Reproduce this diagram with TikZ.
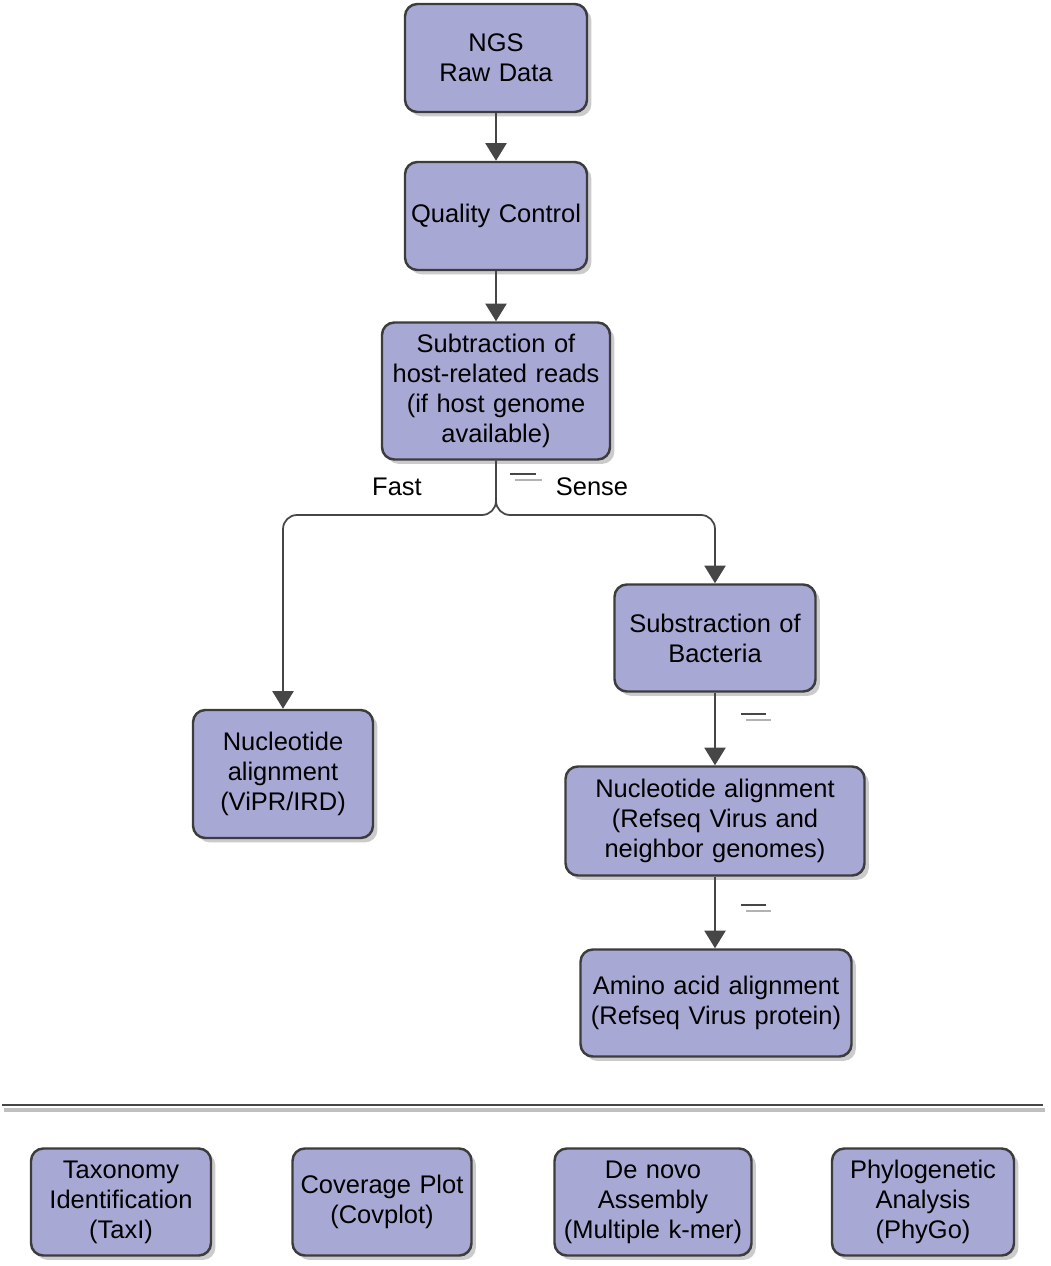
\documentclass[tikz,border=0pt]{standalone}
\usepackage{fontspec}
\setmainfont{Liberation Sans}
\usetikzlibrary{arrows.meta,shadows}
\definecolor{boxfill}{RGB}{168,168,212}
\definecolor{boxline}{RGB}{60,60,60}
\definecolor{wire}{RGB}{70,70,70}
\tikzset{
  stepbox/.style={draw=boxline,line width=1.4pt,fill=boxfill,rounded corners=7pt,
    align=center,inner sep=1pt,font=\fontsize{14.5}{17}\selectfont,
    drop shadow={shadow xshift=2.5pt,shadow yshift=-2.5pt,fill=black!45,opacity=.45}},
  flow/.style={draw=wire,line width=1pt,-{Triangle[width=12pt,length=10pt]}},
  tick/.style={line width=1.2pt}
}
\begin{document}
\begin{tikzpicture}[x=0.02cm,y=-0.02cm,line join=round]
  \useasboundingbox (0,0) rectangle (1050,1266);
  % main chain
  \node[stepbox,text width=178*0.02cm,minimum width=182*0.02cm,minimum height=108*0.02cm] (ngs) at (496,58) {NGS\\Raw Data};
  \node[stepbox,text width=178*0.02cm,minimum width=182*0.02cm,minimum height=108*0.02cm] (qc) at (496,216) {Quality Control};
  \node[stepbox,text width=215*0.02cm,minimum width=228*0.02cm,minimum height=137*0.02cm] (host) at (496,391) {Subtraction of\\host-related reads\\(if host genome\\available)};
  % fast branch
  \node[stepbox,text width=170*0.02cm,minimum width=180*0.02cm,minimum height=128*0.02cm] (vipr) at (283,774) {Nucleotide\\alignment\\(ViPR/IRD)};
  % sense branch
  \node[stepbox,text width=190*0.02cm,minimum width=201*0.02cm,minimum height=107*0.02cm] (bact) at (715,638) {Substraction of\\Bacteria};
  \node[stepbox,text width=290*0.02cm,minimum width=299*0.02cm,minimum height=109*0.02cm] (refnt) at (715,821) {Nucleotide alignment\\(Refseq Virus and\\neighbor genomes)};
  \node[stepbox,text width=262*0.02cm,minimum width=271*0.02cm,minimum height=107*0.02cm] (refaa) at (716,1003) {Amino acid alignment\\(Refseq Virus protein)};
  %
  \draw[flow] (ngs) -- (qc);
  \draw[flow] (qc) -- (host);
  \coordinate (fork) at (496,515);
  \draw[flow,rounded corners=8pt] (host.south) -- (fork) -| (vipr.north);
  \draw[flow,rounded corners=8pt] (host.south) -- (fork) -| (bact.north);
  \draw[flow] (bact) -- (refnt);
  \draw[flow] (refnt.south) -- (refaa.north -| refnt.south);
  \node[font=\fontsize{14.5}{17}\selectfont] (fast) at (397,487) {Fast};
  \node[font=\fontsize{14.5}{17}\selectfont] (sense) at (592,487) {Sense};
  % small marks
  \draw[tick,wire] (510,474) -- (536,474);
  \draw[tick,black!30] (515,480) -- (542,480);
  \draw[tick,wire] (741,714) -- (766,714);
  \draw[tick,black!30] (746,720) -- (771,720);
  \draw[tick,wire] (741,905) -- (766,905);
  \draw[tick,black!30] (746,911) -- (771,911);
  % separator
  \draw[line width=2.5pt,black!25] (4,1110) -- (1045,1110);
  \draw[line width=1.6pt,wire] (2,1105) -- (1043,1105);
  % tools
  \node[stepbox,text width=172*0.02cm,minimum width=180*0.02cm,minimum height=107*0.02cm] (taxi) at (121,1202) {Taxonomy\\Identification\\(TaxI)};
  \node[stepbox,text width=172*0.02cm,minimum width=179*0.02cm,minimum height=107*0.02cm] (cov) at (382,1202) {Coverage Plot\\(Covplot)};
  \node[stepbox,text width=192*0.02cm,minimum width=197*0.02cm,minimum height=107*0.02cm] (denovo) at (653,1202) {De novo\\Assembly\\(Multiple k-mer)};
  \node[stepbox,text width=176*0.02cm,minimum width=182*0.02cm,minimum height=107*0.02cm] (phygo) at (923,1202) {Phylogenetic\\Analysis\\(PhyGo)};
\end{tikzpicture}
\end{document}
